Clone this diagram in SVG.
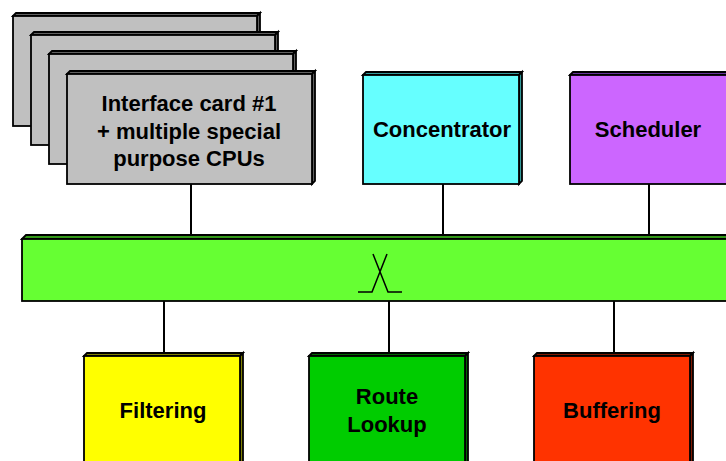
<svg xmlns="http://www.w3.org/2000/svg" width="726" height="461" viewBox="0 0 726 461">
<style>
  .edge { stroke: #000; stroke-width: 2; fill: none; }
  .b { stroke: #000; stroke-width: 1.8; stroke-linejoin: miter; }
  .t { font-family: "Liberation Sans", Arial, sans-serif; font-weight: bold; font-size: 22px; fill: #000; text-anchor: middle; }
</style>
<rect width="726" height="461" fill="#fff"/>
<g id="connectors">
  <line class="edge" x1="191" y1="184" x2="191" y2="235"/>
  <line class="edge" x1="443" y1="184" x2="443" y2="235"/>
  <line class="edge" x1="649" y1="184" x2="649" y2="235"/>
  <line class="edge" x1="164" y1="301" x2="164" y2="353"/>
  <line class="edge" x1="389" y1="301" x2="389" y2="353"/>
  <line class="edge" x1="614" y1="301" x2="614" y2="353"/>
</g>
<g id="card4">
  <polygon class="b" fill="#606060" points="13,16 16,13 260,13 257,16"/>
  <polygon class="b" fill="#606060" points="257,16 260,13 260,123 257,126"/>
  <rect class="b" fill="#C0C0C0" x="13" y="16" width="244" height="110"/>
</g>
<g id="card3">
  <polygon class="b" fill="#606060" points="31,35 34,32 278,32 275,35"/>
  <polygon class="b" fill="#606060" points="275,35 278,32 278,142 275,145"/>
  <rect class="b" fill="#C0C0C0" x="31" y="35" width="244" height="110"/>
</g>
<g id="card2">
  <polygon class="b" fill="#606060" points="49,54 52,51 296,51 293,54"/>
  <polygon class="b" fill="#606060" points="293,54 296,51 296,161 293,164"/>
  <rect class="b" fill="#C0C0C0" x="49" y="54" width="244" height="110"/>
</g>
<g id="card1">
  <polygon class="b" fill="#606060" points="67,74 70,71 315,71 312,74"/>
  <polygon class="b" fill="#606060" points="312,74 315,71 315,181 312,184"/>
  <rect class="b" fill="#C0C0C0" x="67" y="74" width="245" height="110"/>
  <text class="t" x="189" y="111">Interface card #1</text>
  <text class="t" x="189" y="139">+ multiple special</text>
  <text class="t" x="189" y="166">purpose CPUs</text>
</g>
<g id="concentrator">
  <polygon class="b" fill="#339999" points="363,75 366,72 522,72 519,75"/>
  <polygon class="b" fill="#339999" points="519,75 522,72 522,181 519,184"/>
  <rect class="b" fill="#66FFFF" x="363" y="75" width="156" height="109"/>
  <text class="t" x="442" y="137">Concentrator</text>
</g>
<g id="scheduler">
  <polygon class="b" fill="#663399" points="570,75 573,72 740,72 737,75"/>
  <rect class="b" fill="#CC66FF" x="570" y="75" width="170" height="109"/>
  <text class="t" x="648" y="137">Scheduler</text>
</g>
<g id="bus">
  <polygon class="b" fill="#339919" points="22,239 26,235 740,235 736,239"/>
  <rect class="b" fill="#66FF33" x="22" y="239" width="718" height="62"/>
  <path d="M358,292 H372 L387,254 M373,254 L388,292 H402" stroke="#000" stroke-width="1.5" fill="none"/>
</g>
<g id="filtering">
  <polygon class="b" fill="#808000" points="84,356 87,353 243,353 240,356"/>
  <polygon class="b" fill="#808000" points="240,356 243,353 243,470 240,470"/>
  <rect class="b" fill="#FFFF00" x="84" y="356" width="156" height="120"/>
  <text class="t" x="163" y="418">Filtering</text>
</g>
<g id="routelookup">
  <polygon class="b" fill="#006600" points="309,356 312,353 468,353 465,356"/>
  <polygon class="b" fill="#006600" points="465,356 468,353 468,470 465,470"/>
  <rect class="b" fill="#00CC00" x="309" y="356" width="156" height="120"/>
  <text class="t" x="387" y="404">Route</text>
  <text class="t" x="387" y="432">Lookup</text>
</g>
<g id="buffering">
  <polygon class="b" fill="#801900" points="534,356 537,353 693,353 690,356"/>
  <polygon class="b" fill="#801900" points="690,356 693,353 693,470 690,470"/>
  <rect class="b" fill="#FF3300" x="534" y="356" width="156" height="120"/>
  <text class="t" x="612" y="418">Buffering</text>
</g>
</svg>
